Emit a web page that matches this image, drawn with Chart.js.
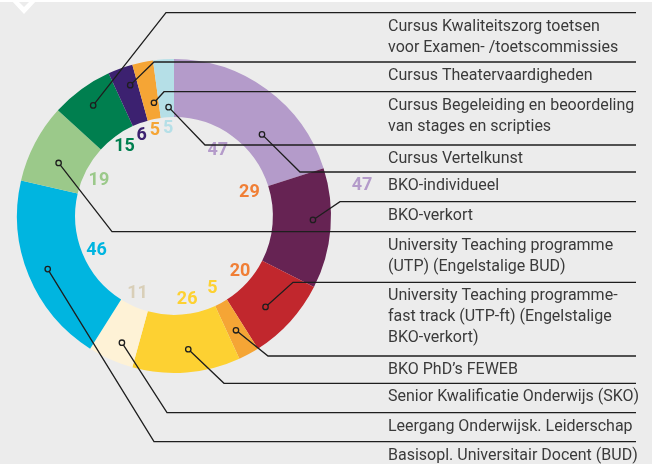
<!DOCTYPE html>
<html>
<head>
<meta charset="utf-8">
<script src="https://cdn.jsdelivr.net/npm/chart.js@4"></script>
<style>
  html, body { margin: 0; padding: 0; background: #ececec; }
  #wrap { width: 652px; height: 464px; position: relative; }
</style>
</head>
<body>
<div id="wrap"><canvas id="chart"></canvas></div>
<script>
// data, in drawing order (clockwise from 12 o'clock)
const categories = [
  ['BKO-individueel'],
  ['BKO-verkort'],
  ['University Teaching programme-', 'fast track (UTP-ft) (Engelstalige', 'BKO-verkort)'],
  ['BKO PhD\u2019s FEWEB'],
  ['Senior Kwalificatie Onderwijs (SKO)'],
  ['Leergang Onderwijsk. Leiderschap'],
  ['Basisopl. Universitair Docent (BUD)'],
  ['University Teaching programme', '(UTP) (Engelstalige BUD)'],
  ['Cursus Kwaliteitszorg toetsen', 'voor Examen- /toetscommissies'],
  ['Cursus Theatervaardigheden'],
  ['Cursus Begeleiding en beoordeling', 'van stages en scripties'],
  ['Cursus Vertelkunst']
];
const values = [47, 29, 20, 5, 26, 11, 46, 19, 15, 6, 5, 5];
// legend rows top to bottom (index into categories)
const legendOrder = [8, 9, 10, 11, 0, 1, 7, 2, 3, 4, 5, 6];

const colors = ['#b49bca', '#662353', '#c1272d', '#f5a535', '#fdd132', '#fef2d6',
                '#00b5e0', '#9bc98a', '#007f4f', '#3c2170', '#f5a535', '#b5dfe7'];
const labelColors = ['#b49bca', '#f07f36', '#f07f36', '#fdd132', '#fdd132', '#d9cfb8',
                     '#00b5e0', '#9bc98a', '#007f4f', '#3c2170', '#f5a535', '#b5dfe7'];

// annotation layout
const labelShift = [-2.5, -22, -2.5, 0.5, -4.3, 1.3, -1.9, -2.5, 0.5, -1.9, -1, 0];
const labelR = [79, 79, 86, 82, 85, 86, 85, 83, 85, 86.5, 88, 88];
const dotShift = [11, -3, 2.5, 0, -1.5, -1.5, -0.5, -3, 0, 1.5, 1.5, 1];
const dotR = [120, 139, 129, 130, 134, 137, 137, 127, 137, 138, 115, 109];
const rowLines = [12.7, 62, 91.7, 145, 172, 201.7, 231.7, 282.3, 356, 383.3, 412.7, 441.7];
const bendX = [166, 154, 164, 205, 300, 340, 112, 293, 268, 224, 167, 154];
const lineEnd = 636;
const legendX = 388;

const deg = Math.PI / 180;

const backdrop = {
  id: 'backdrop',
  beforeDraw(chart) {
    const ctx = chart.ctx;
    ctx.save();
    ctx.fillStyle = '#ececec';
    ctx.fillRect(0, 0, chart.width, chart.height);
    ctx.fillStyle = '#ffffff';
    ctx.fillRect(0, 0, chart.width, 2);
    ctx.beginPath();
    ctx.moveTo(11, 0);
    ctx.lineTo(24, 14);
    ctx.lineTo(37, 0);
    ctx.lineTo(31, 0);
    ctx.lineTo(24, 7);
    ctx.lineTo(17, 0);
    ctx.closePath();
    ctx.fill();
    ctx.restore();
  }
};

const annotations = {
  id: 'annotations',
  afterDraw(chart) {
    const ctx = chart.ctx;
    const arcs = chart.getDatasetMeta(0).data;
    ctx.save();

    // value labels inside the ring
    ctx.font = 'bold 18px Roboto';
    ctx.textAlign = 'center';
    ctx.textBaseline = 'middle';
    arcs.forEach((arc, i) => {
      const a = (arc.startAngle + arc.endAngle) / 2 + labelShift[i] * deg;
      ctx.fillStyle = labelColors[i];
      ctx.fillText(String(values[i]), arc.x + labelR[i] * Math.cos(a), arc.y + labelR[i] * Math.sin(a));
    });

    // leader lines + legend text
    legendOrder.forEach((ci, row) => {
      const arc = arcs[ci];
      const a = (arc.startAngle + arc.endAngle) / 2 + dotShift[ci] * deg;
      const dx = arc.x + dotR[ci] * Math.cos(a);
      const dy = arc.y + dotR[ci] * Math.sin(a);
      const y = rowLines[row];

      ctx.strokeStyle = '#1e1e1e';
      ctx.lineWidth = 1.3;
      ctx.beginPath();
      ctx.moveTo(dx, dy);
      ctx.lineTo(bendX[row], y);
      ctx.lineTo(lineEnd, y);
      ctx.stroke();

      ctx.fillStyle = colors[ci];
      ctx.beginPath();
      ctx.arc(dx, dy, 2.7, 0, 2 * Math.PI);
      ctx.fill();
      ctx.stroke();

      ctx.fillStyle = '#3a3a3a';
      ctx.font = '16px Roboto';
      ctx.textAlign = 'left';
      ctx.textBaseline = 'alphabetic';
      categories[ci].forEach((line, k) => {
        ctx.fillText(line, legendX, y + 18 + k * 21);
      });
    });

    // value shown beside BKO-individueel
    ctx.font = 'bold 18px Roboto';
    ctx.textAlign = 'center';
    ctx.textBaseline = 'middle';
    ctx.fillStyle = labelColors[0];
    ctx.fillText(String(values[0]), 362, rowLines[legendOrder.indexOf(0)] + 13.5);

    ctx.restore();
  }
};

new Chart(document.getElementById('chart'), {
  type: 'doughnut',
  data: {
    labels: categories.map(c => c.join(' ')),
    datasets: [{
      data: values,
      backgroundColor: colors,
      borderWidth: 0,
      hoverOffset: 0,
      offset: 0
    }]
  },
  options: {
    responsive: true,
    maintainAspectRatio: false,
    animation: false,
    events: [],
    cutout: '63%',
    layout: { padding: { left: 17, top: 59, right: 321, bottom: 91 } },
    plugins: {
      legend: { display: false },
      tooltip: { enabled: false }
    }
  },
  plugins: [backdrop, annotations]
});
</script>
</body>
</html>
